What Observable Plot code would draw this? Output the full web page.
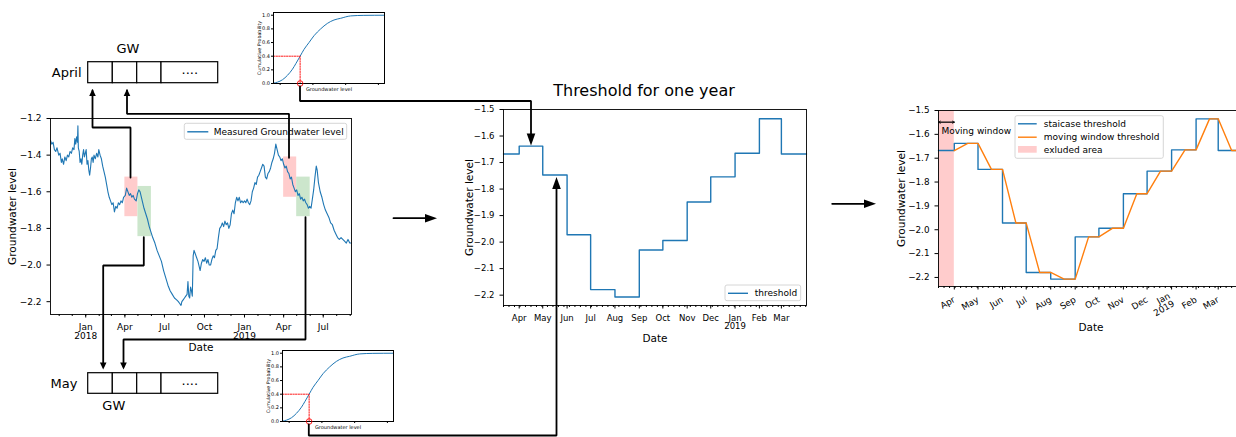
<!DOCTYPE html>
<html>
<head>
<meta charset="utf-8">
<script src="https://cdn.jsdelivr.net/npm/d3@7"></script>
<script src="https://cdn.jsdelivr.net/npm/@observablehq/plot@0.6"></script>
<style>
  html, body { margin: 0; padding: 0; background: #fff; }
  #fig { position: relative; width: 1236px; height: 437px; overflow: hidden; background: #fff;
         font-family: "DejaVu Sans", sans-serif; }
</style>
</head>
<body>
<div id="fig"></div>
<script>
// ---------------------------------------------------------------------------
// Data
// ---------------------------------------------------------------------------

// Measured groundwater level (m) along the full record
const measured = [
  ["2017-10-12",-1.32],["2017-10-15",-1.34],["2017-10-18",-1.33],["2017-10-21",-1.37],["2017-10-24",-1.38],
  ["2017-10-27",-1.36],["2017-10-31",-1.40],["2017-11-03",-1.39],["2017-11-06",-1.44],["2017-11-08",-1.42],
  ["2017-11-11",-1.45],["2017-11-14",-1.41],["2017-11-17",-1.43],["2017-11-20",-1.40],["2017-11-23",-1.41],
  ["2017-11-26",-1.38],["2017-11-29",-1.39],["2017-12-02",-1.36],["2017-12-05",-1.37],["2017-12-07",-1.31],
  ["2017-12-09",-1.34],["2017-12-11",-1.30],["2017-12-13",-1.33],["2017-12-14",-1.24],["2017-12-15",-1.36],
  ["2017-12-17",-1.38],["2017-12-19",-1.44],["2017-12-21",-1.42],["2017-12-23",-1.45],["2017-12-25",-1.40],
  ["2017-12-27",-1.37],["2017-12-29",-1.41],["2018-01-01",-1.38],["2018-01-02",-1.37],["2018-01-04",-1.45],
  ["2018-01-06",-1.43],["2018-01-08",-1.48],["2018-01-10",-1.51],["2018-01-12",-1.47],["2018-01-14",-1.42],
  ["2018-01-16",-1.41],["2018-01-18",-1.44],["2018-01-20",-1.40],["2018-01-23",-1.42],["2018-01-26",-1.39],
  ["2018-01-29",-1.41],["2018-01-31",-1.37],["2018-02-03",-1.40],["2018-02-06",-1.42],["2018-02-09",-1.46],
  ["2018-02-12",-1.49],["2018-02-15",-1.52],["2018-02-18",-1.56],["2018-02-21",-1.60],["2018-02-24",-1.63],
  ["2018-02-27",-1.65],["2018-03-02",-1.67],["2018-03-05",-1.66],["2018-03-08",-1.71],["2018-03-11",-1.68],
  ["2018-03-14",-1.69],["2018-03-17",-1.66],["2018-03-20",-1.67],["2018-03-23",-1.65],["2018-03-26",-1.66],
  ["2018-03-29",-1.63],["2018-04-02",-1.62],["2018-04-05",-1.58],["2018-04-08",-1.60],["2018-04-11",-1.62],
  ["2018-04-14",-1.61],["2018-04-17",-1.63],["2018-04-20",-1.62],["2018-04-23",-1.64],["2018-04-27",-1.65],
  ["2018-04-30",-1.61],["2018-05-03",-1.59],["2018-05-06",-1.60],["2018-05-09",-1.63],["2018-05-12",-1.66],
  ["2018-05-15",-1.69],["2018-05-19",-1.72],["2018-05-23",-1.75],["2018-05-27",-1.79],["2018-05-31",-1.82],
  ["2018-06-04",-1.85],["2018-06-09",-1.88],["2018-06-14",-1.92],["2018-06-19",-1.95],["2018-06-24",-1.98],
  ["2018-06-29",-2.03],["2018-07-04",-2.07],["2018-07-09",-2.11],["2018-07-14",-2.14],["2018-07-19",-2.16],
  ["2018-07-24",-2.18],["2018-07-29",-2.19],["2018-08-02",-2.20],["2018-08-05",-2.21],["2018-08-08",-2.22],
  ["2018-08-10",-2.20],["2018-08-13",-2.19],["2018-08-16",-2.18],["2018-08-19",-2.17],["2018-08-22",-2.16],
  ["2018-08-24",-2.09],["2018-08-26",-2.17],["2018-08-28",-2.18],["2018-08-30",-2.12],["2018-09-01",-2.14],
  ["2018-09-03",-2.17],["2018-09-05",-1.95],["2018-09-07",-1.92],["2018-09-10",-1.94],["2018-09-13",-1.96],
  ["2018-09-16",-1.98],["2018-09-19",-2.01],["2018-09-21",-2.03],["2018-09-24",-1.99],["2018-09-27",-1.97],
  ["2018-09-30",-1.98],["2018-10-03",-1.96],["2018-10-06",-1.99],["2018-10-09",-1.97],["2018-10-12",-2.00],
  ["2018-10-15",-2.00],["2018-10-18",-1.97],["2018-10-21",-1.95],["2018-10-24",-1.96],["2018-10-27",-1.92],
  ["2018-10-30",-1.91],["2018-11-02",-1.85],["2018-11-05",-1.80],["2018-11-08",-1.79],["2018-11-11",-1.77],
  ["2018-11-14",-1.79],["2018-11-17",-1.76],["2018-11-20",-1.78],["2018-11-23",-1.77],["2018-11-26",-1.80],
  ["2018-11-29",-1.78],["2018-12-02",-1.72],["2018-12-05",-1.70],["2018-12-08",-1.72],["2018-12-11",-1.66],
  ["2018-12-14",-1.63],["2018-12-17",-1.65],["2018-12-20",-1.63],["2018-12-23",-1.66],["2018-12-26",-1.65],
  ["2018-12-29",-1.66],["2019-01-01",-1.65],["2019-01-04",-1.66],["2019-01-07",-1.64],["2019-01-10",-1.66],
  ["2019-01-13",-1.67],["2019-01-16",-1.65],["2019-01-19",-1.60],["2019-01-22",-1.58],["2019-01-25",-1.55],
  ["2019-01-28",-1.56],["2019-01-31",-1.52],["2019-02-03",-1.51],["2019-02-06",-1.49],["2019-02-09",-1.47],
  ["2019-02-12",-1.45],["2019-02-15",-1.46],["2019-02-18",-1.52],["2019-02-21",-1.53],["2019-02-24",-1.50],
  ["2019-02-27",-1.49],["2019-03-02",-1.47],["2019-03-05",-1.44],["2019-03-08",-1.42],["2019-03-11",-1.39],
  ["2019-03-14",-1.34],["2019-03-17",-1.37],["2019-03-20",-1.40],["2019-03-23",-1.41],["2019-03-26",-1.43],
  ["2019-03-29",-1.42],["2019-04-01",-1.45],["2019-04-04",-1.47],["2019-04-07",-1.46],["2019-04-10",-1.49],
  ["2019-04-13",-1.50],["2019-04-16",-1.53],["2019-04-19",-1.52],["2019-04-22",-1.56],["2019-04-25",-1.58],
  ["2019-04-28",-1.60],["2019-05-01",-1.59],["2019-05-04",-1.62],["2019-05-07",-1.61],["2019-05-10",-1.64],
  ["2019-05-13",-1.63],["2019-05-16",-1.65],["2019-05-19",-1.64],["2019-05-22",-1.66],["2019-05-25",-1.67],
  ["2019-05-28",-1.69],["2019-05-31",-1.68],["2019-06-03",-1.69],["2019-06-06",-1.64],["2019-06-09",-1.59],
  ["2019-06-12",-1.52],["2019-06-15",-1.46],["2019-06-17",-1.48],["2019-06-20",-1.55],["2019-06-24",-1.60],
  ["2019-06-28",-1.63],["2019-07-02",-1.67],["2019-07-06",-1.70],["2019-07-10",-1.72],["2019-07-14",-1.74],
  ["2019-07-18",-1.77],["2019-07-22",-1.78],["2019-07-26",-1.81],["2019-07-30",-1.83],["2019-08-03",-1.85],
  ["2019-08-07",-1.86],["2019-08-11",-1.85],["2019-08-15",-1.86],["2019-08-19",-1.87],["2019-08-23",-1.88],
  ["2019-08-27",-1.86],["2019-08-31",-1.88],["2019-09-04",-1.88]
];

// Monthly windows highlighted on the record (April = red, May = green)
const windowStarts = ["2018-04-01", "2018-05-01", "2019-04-01", "2019-05-01"];
const windowEnds   = ["2018-05-01", "2018-06-01", "2019-05-01", "2019-06-01"];
const windowLows   = [-1.736, -1.845, -1.63, -1.736];
const windowHighs  = [-1.52, -1.571, -1.41, -1.52];
const windowFills  = ["#ffcccc", "#cce6cc", "#ffcccc", "#cce6cc"];

// Staircase threshold: one value per month
const monthStarts = ["2018-03-12", "2018-04-01", "2018-05-01", "2018-06-01", "2018-07-01", "2018-08-01",
                     "2018-09-01", "2018-10-01", "2018-11-01", "2018-12-01", "2019-01-01", "2019-02-01", "2019-03-01"];
const monthThresholds = [-1.668, -1.638, -1.747, -1.972, -2.179, -2.207, -2.030, -1.994, -1.849, -1.754, -1.665, -1.535, -1.668];
const yearEnd = "2019-04-02";

// Moving-window threshold
const movingDates = ["2018-04-01", "2018-04-18", "2018-05-01", "2018-05-18", "2018-06-01", "2018-06-18",
                     "2018-07-01", "2018-07-18", "2018-08-01", "2018-08-18", "2018-09-01", "2018-09-18",
                     "2018-10-01", "2018-10-18", "2018-11-01", "2018-11-18", "2018-12-01", "2018-12-18",
                     "2019-01-01", "2019-01-18", "2019-02-01", "2019-02-18", "2019-03-01", "2019-03-18", "2019-04-02"];
const movingLevels = [-1.668, -1.638, -1.638, -1.747, -1.747, -1.972, -1.972, -2.179, -2.179, -2.207, -2.207, -2.030,
                      -2.030, -1.994, -1.994, -1.849, -1.849, -1.754, -1.754, -1.665, -1.665, -1.535, -1.535, -1.668, -1.668];
const excludedStart = "2018-03-12";
const excludedEnd = "2018-04-01";

// Empirical cumulative distribution of the monthly levels (normalised level axis)
const cdfLevels = [0, 0.036, 0.081, 0.126, 0.171, 0.201, 0.24, 0.275, 0.32, 0.365, 0.425, 0.485, 0.545, 0.605, 0.695, 0.814, 1.0];
const cdfProbs  = [0.005, 0.02, 0.055, 0.12, 0.21, 0.29, 0.40, 0.50, 0.60, 0.70, 0.80, 0.88, 0.93, 0.955, 0.99, 0.998, 1.0];
const pickedProb = 0.4;
const pickedLevel = 0.24;

// Tick values and labels
const recordTicks = ["2018-01-01", "2018-04-01", "2018-07-01", "2018-10-01", "2019-01-01", "2019-04-01", "2019-07-01"];
const recordTickLabels = ["Jan\n2018", "Apr", "Jul", "Oct", "Jan\n2019", "Apr", "Jul"];
const recordLevelTicks = [-2.2, -2.0, -1.8, -1.6, -1.4, -1.2];
const yearTicks = ["2018-04-01", "2018-05-01", "2018-06-01", "2018-07-01", "2018-08-01", "2018-09-01",
                   "2018-10-01", "2018-11-01", "2018-12-01", "2019-01-01", "2019-02-01", "2019-03-01"];
const yearTickLabels = ["Apr", "May", "Jun", "Jul", "Aug", "Sep", "Oct", "Nov", "Dec", "Jan\n2019", "Feb", "Mar"];
const thresholdTicks = [-2.2, -2.1, -2.0, -1.9, -1.8, -1.7, -1.6, -1.5];
const probTicks = [0, 0.2, 0.4, 0.6, 0.8, 1.0];
const cdfLevelTicks = [0.06, 0.355, 0.65, 0.945];

// ---------------------------------------------------------------------------
// Helpers
// ---------------------------------------------------------------------------
const FONT = "'DejaVu Sans', sans-serif";
const BLUE = "#1f77b4", ORANGE = "#ff7f0e";
const parse = d3.utcParse("%Y-%m-%d");
const fig = document.getElementById("fig");

function place(node, left, top) {
  node.style.position = "absolute";
  node.style.left = left + "px";
  node.style.top = top + "px";
  node.style.background = "transparent";
  node.style.maxWidth = "none";
  node.style.overflow = "visible";
  fig.appendChild(node);
}
function labeler(dates, labels) {
  const m = new Map(dates.map((d, i) => [+parse(d), labels[i]]));
  return (d) => m.get(+d) ?? "";
}
const fmt1 = d3.format(".1f");
const blank = () => "";
const centred = {textAnchor: "middle", lineAnchor: "middle"};
const axisLabelY = (text, dx, fontSize = 10.5) =>
  Plot.text([text], {text: (d) => d, frameAnchor: "left", dx, rotate: -90, fontSize, ...centred});
const axisLabelX = (text, dy, fontSize = 10.5) =>
  Plot.text([text], {text: (d) => d, frameAnchor: "bottom", dy, fontSize, ...centred});

// ---------------------------------------------------------------------------
// Tables
// ---------------------------------------------------------------------------
const record = measured.map(([d, v]) => ({date: parse(d), level: v}));
const windows = windowStarts.map((d, i) => ({start: parse(d), end: parse(windowEnds[i]), low: windowLows[i], high: windowHighs[i], fill: windowFills[i]}));
const stair = monthStarts.map((d, i) => ({date: parse(d), level: monthThresholds[i]}))
  .concat([{date: parse(yearEnd), level: monthThresholds[monthThresholds.length - 1]}]);
const moving = movingDates.map((d, i) => ({date: parse(d), level: movingLevels[i]}));
const cdf = cdfLevels.map((x, i) => ({level: x, prob: cdfProbs[i]}));
const pickPath = [{level: 0, prob: pickedProb}, {level: pickedLevel, prob: pickedProb}, {level: pickedLevel, prob: 0}];

const recordDomain = [record[0].date, record[record.length - 1].date];
const yearDomain = [parse(monthStarts[0]), parse(yearEnd)];
const recordMinor = d3.utcMonth.range(recordDomain[0], recordDomain[1]);
const yearMinor = d3.utcMonday.range(yearDomain[0], yearDomain[1]);

// ---------------------------------------------------------------------------
// Left: measured record with monthly windows
// ---------------------------------------------------------------------------
const recordPlot = Plot.plot({
  width: 360, height: 260, marginLeft: 50, marginRight: 9, marginTop: 18, marginBottom: 46,
  style: {fontFamily: FONT, fontSize: "9px", color: "black"},
  x: {type: "utc", domain: recordDomain},
  y: {domain: [-2.27, -1.2]},
  color: {type: "identity"},
  marks: [
    Plot.rect(windows, {x1: "start", x2: "end", y1: "low", y2: "high", fill: "fill"}),
    Plot.line(record, {x: "date", y: "level", stroke: BLUE, strokeWidth: 1.1}),
    Plot.frame({stroke: "black", strokeWidth: 0.9}),
    Plot.axisY({ticks: recordLevelTicks, tickFormat: fmt1, tickSize: 3.5, label: null}),
    Plot.axisX({ticks: recordTicks.map(parse), tickFormat: labeler(recordTicks, recordTickLabels), tickSize: 3.5, label: null}),
    Plot.axisX({ticks: recordMinor, tickFormat: blank, tickSize: 2, label: null}),
    axisLabelY("Groundwater level", -38),
    axisLabelX("Date", 33)
  ]
});
place(recordPlot, 0, 100);

// ---------------------------------------------------------------------------
// Middle: staircase threshold for one year
// ---------------------------------------------------------------------------
const stairPlot = Plot.plot({
  width: 370, height: 270, marginLeft: 63, marginRight: 4, marginTop: 29, marginBottom: 45,
  style: {fontFamily: FONT, fontSize: "8.5px", color: "black"},
  x: {type: "utc", domain: yearDomain},
  y: {domain: [-2.239, -1.5]},
  marks: [
    Plot.line(stair, {x: "date", y: "level", curve: "step-after", stroke: BLUE, strokeWidth: 1.4}),
    Plot.frame({stroke: "black", strokeWidth: 0.9}),
    Plot.axisY({ticks: thresholdTicks, tickFormat: fmt1, tickSize: 3.5, label: null}),
    Plot.axisX({ticks: yearTicks.map(parse), tickFormat: labeler(yearTicks, yearTickLabels), tickSize: 3.5, label: null}),
    Plot.axisX({ticks: yearMinor, tickFormat: blank, tickSize: 2, label: null}),
    Plot.text(["Threshold for one year"], {text: (d) => d, frameAnchor: "top", dy: -19, dx: -11, fontSize: 16, ...centred}),
    axisLabelY("Groundwater level", -34),
    axisLabelX("Date", 33)
  ]
});
place(stairPlot, 440, 80);

// ---------------------------------------------------------------------------
// Right: staircase vs moving-window threshold
// ---------------------------------------------------------------------------
const windowArrowY = -1.549;
const movingPlot = Plot.plot({
  width: 370, height: 260, marginLeft: 58, marginRight: 7, marginTop: 15, marginBottom: 69,
  style: {fontFamily: FONT, fontSize: "8.8px", color: "black"},
  x: {type: "utc", domain: yearDomain},
  y: {domain: [-2.238, -1.5]},
  marks: [
    Plot.rect([{a: parse(excludedStart), b: parse(excludedEnd)}], {x1: "a", x2: "b", fill: "#ffcccc"}),
    Plot.line(stair, {x: "date", y: "level", curve: "step-after", stroke: BLUE, strokeWidth: 1.4}),
    Plot.line(moving, {x: "date", y: "level", stroke: ORANGE, strokeWidth: 1.4}),
    Plot.arrow([{a: parse(excludedStart), b: parse(excludedEnd)}, {a: parse(excludedEnd), b: parse(excludedStart)}],
      {x1: "a", x2: "b", y1: () => windowArrowY, y2: () => windowArrowY, headLength: 4, strokeWidth: 0.8, stroke: "black"}),
    Plot.text(["Moving window"], {text: (d) => d, x: () => parse(excludedStart), y: () => -1.587, dx: 3, textAnchor: "start", fontSize: 9}),
    Plot.frame({stroke: "black", strokeWidth: 0.9}),
    Plot.axisY({ticks: thresholdTicks, tickFormat: fmt1, tickSize: 3.5, label: null}),
    Plot.axisX({ticks: yearTicks.map(parse), tickFormat: labeler(yearTicks, yearTickLabels), tickSize: 3.5, tickRotate: -30, label: null}),
    Plot.axisX({ticks: yearMinor, tickFormat: blank, tickSize: 2, label: null}),
    axisLabelY("Groundwater level", -37),
    axisLabelX("Date", 41)
  ]
});
place(movingPlot, 880, 95);

// ---------------------------------------------------------------------------
// Small cumulative-probability panels
// ---------------------------------------------------------------------------
function cdfPlot() {
  return Plot.plot({
    width: 150, height: 100, marginLeft: 33, marginRight: 6, marginTop: 12, marginBottom: 17,
    style: {fontFamily: FONT, fontSize: "5px", color: "black"},
    x: {domain: [0, 1]},
    y: {domain: [0, 1.04]},
    marks: [
      Plot.line(cdf, {x: "level", y: "prob", curve: "monotone-x", stroke: BLUE, strokeWidth: 1}),
      Plot.line(pickPath, {x: "level", y: "prob", stroke: "red", strokeWidth: 0.9, strokeDasharray: "1.4,1.2"}),
      Plot.frame({stroke: "black", strokeWidth: 1}),
      Plot.dot([pickPath[2]], {x: "level", y: "prob", r: 2.8, stroke: "red", strokeWidth: 0.9, fill: "none"}),
      Plot.axisY({ticks: probTicks, tickFormat: fmt1, tickSize: 2, tickPadding: 1.5, label: null}),
      Plot.axisX({ticks: cdfLevelTicks, tickFormat: blank, tickSize: 2, label: null}),
      axisLabelY("Cumulative Probability", -14.5, 4.8),
      axisLabelX("Groundwater level", 6, 5)
    ]
  });
}
place(cdfPlot(), 240, 0);
place(cdfPlot(), 249, 338);

// ---------------------------------------------------------------------------
// Diagram layer (page coordinates): legends, GW arrays, connectors
// ---------------------------------------------------------------------------
const legendBoxes = [
  {x1: 184.3, x2: 346.7, y1: 123.3, y2: 139.3},
  {x1: 725, x2: 800.7, y1: 285, y2: 300.7},
  {x1: 1015, x2: 1163.3, y1: 115.7, y2: 158.3}
];
const legendLines = [
  {x1: 187.3, x2: 208.3, y: 131.3, color: BLUE},
  {x1: 728, x2: 748, y: 292.8, color: BLUE},
  {x1: 1018, x2: 1036.7, y: 123.3, color: BLUE},
  {x1: 1018, x2: 1036.7, y: 136.7, color: ORANGE}
];
const legendPatches = [{x1: 1018, x2: 1036.7, y1: 146, y2: 152.7}];
const legendTexts = [
  {x: 213.3, y: 131.3, text: "Measured Groundwater level"},
  {x: 754.3, y: 292.8, text: "threshold"},
  {x: 1043.3, y: 123.3, text: "staicase threshold"},
  {x: 1043.3, y: 136.7, text: "moving window threshold"},
  {x: 1043.3, y: 149.3, text: "exluded area"}
];

const gwCellEdges = [87.7, 112.3, 136.7, 161, 217.7];
const gwRowTops = [61.7, 372.7];
const gwRowBottoms = [82.7, 393.3];
const gwRowNames = ["April", "May"];
const gwRowNameX = [81, 77];
const gwHeaderPos = [{x: 127.5, y: 48.3}, {x: 113.3, y: 405.7}];

const gwCells = gwRowTops.flatMap((top, r) =>
  gwCellEdges.slice(0, -1).map((x1, c) => ({x1, x2: gwCellEdges[c + 1], y1: top, y2: gwRowBottoms[r]})));
const gwDots = gwRowTops.map((top, r) => ({x: (gwCellEdges[3] + gwCellEdges[4]) / 2, y: (top + gwRowBottoms[r]) / 2 - 2.6, text: "...."}));
const gwNames = gwRowTops.map((top, r) => ({x: gwRowNameX[r], y: (top + gwRowBottoms[r]) / 2, text: gwRowNames[r]}));
const gwHeaders = gwHeaderPos.map((p) => ({...p, text: "GW"}));

const connectors = [
  {id: "aprilFirst",  pts: [[130, 177], [130, 127], [92, 127], [92, 90]]},
  {id: "aprilSecond", pts: [[288.5, 157.3], [288.5, 113.3], [126.5, 113.3], [126.5, 90]]},
  {id: "aprilCdf",    pts: [[299.5, 86], [299.5, 100.5], [530.5, 100.5], [530.5, 140]]},
  {id: "mayFirst",    pts: [[143.3, 236.7], [143.3, 265], [102.7, 265], [102.7, 366]]},
  {id: "maySecond",   pts: [[305, 216.7], [305, 339], [123, 339], [123, 366]]},
  {id: "mayCdf",      pts: [[308.3, 424], [308.3, 435], [556, 435], [556, 181]]},
  {id: "toThreshold", pts: [[393, 217.7], [432, 217.7]]},
  {id: "toMoving",    pts: [[831.7, 203.3], [871, 203.3]]}
];
const heads = [
  {x: 92, y: 88.5, angle: 0, big: false},
  {x: 126.5, y: 88.5, angle: 0, big: false},
  {x: 102.7, y: 369, angle: 180, big: false},
  {x: 123, y: 369, angle: 180, big: false},
  {x: 530.5, y: 145, angle: 180, big: true},
  {x: 556, y: 176.5, angle: 0, big: true},
  {x: 436.5, y: 217.7, angle: 90, big: true},
  {x: 875.5, y: 203.3, angle: 90, big: true}
];
const connectorRows = connectors.flatMap((c) => c.pts.map(([x, y]) => ({id: c.id, x, y})));

// filled arrowhead pointing up with its tip at the origin
const arrowhead = (len, half) => ({
  draw(context) { context.moveTo(0, 0); context.lineTo(-half, len); context.lineTo(half, len); context.closePath(); }
});

const diagram = Plot.plot({
  width: 1236, height: 437, margin: 0,
  style: {fontFamily: FONT, color: "black"},
  x: {domain: [0, 1236], range: [0, 1236], axis: null},
  y: {domain: [0, 437], range: [0, 437], axis: null},
  marks: [
    Plot.rect(legendBoxes, {x1: "x1", x2: "x2", y1: "y1", y2: "y2", fill: "white", fillOpacity: 0.8, stroke: "#cccccc", strokeWidth: 0.8, rx: 2}),
    Plot.ruleY(legendLines, {y: "y", x1: "x1", x2: "x2", stroke: "color", strokeWidth: 1.4}),
    Plot.rect(legendPatches, {x1: "x1", x2: "x2", y1: "y1", y2: "y2", fill: "#ffcccc"}),
    Plot.text(legendTexts, {x: "x", y: "y", text: "text", textAnchor: "start", fontSize: 9}),
    Plot.rect(gwCells, {x1: "x1", x2: "x2", y1: "y1", y2: "y2", fill: "white", stroke: "black", strokeWidth: 1.2}),
    Plot.text(gwDots, {x: "x", y: "y", text: "text", fontSize: 13}),
    Plot.text(gwNames, {x: "x", y: "y", text: "text", textAnchor: "end", fontSize: 13}),
    Plot.text(gwHeaders, {x: "x", y: "y", text: "text", fontSize: 13}),
    Plot.line(connectorRows, {x: "x", y: "y", z: "id", stroke: "black", strokeWidth: 1.8, strokeLinejoin: "miter", curve: "linear"}),
    Plot.dot(heads.filter((h) => !h.big), {x: "x", y: "y", rotate: "angle", symbol: arrowhead(7, 3.3), fill: "black", stroke: "none"}),
    Plot.dot(heads.filter((h) => h.big), {x: "x", y: "y", rotate: "angle", symbol: arrowhead(12, 4.3), fill: "black", stroke: "none"})
  ]
});
place(diagram, 0, 0);
</script>
</body>
</html>
